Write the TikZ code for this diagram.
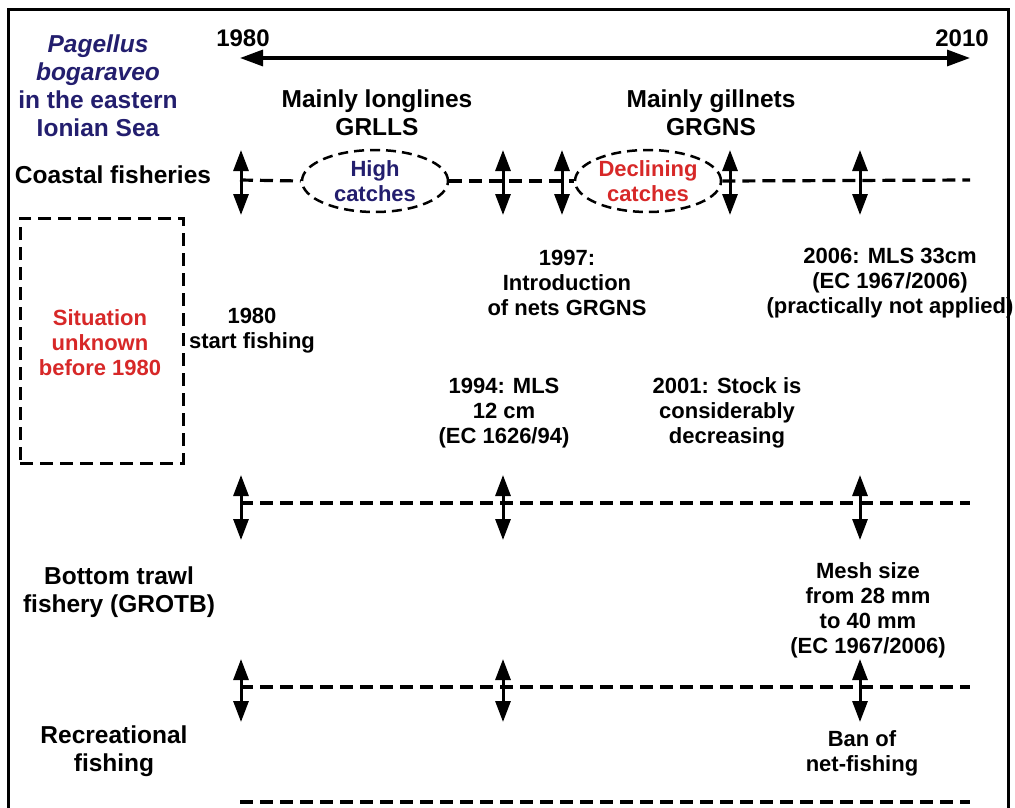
\documentclass[tikz,border=0pt]{standalone}
\usepackage{fontspec}
\setmainfont{Liberation Sans}
\usetikzlibrary{arrows.meta,shapes.geometric}
\definecolor{navy}{RGB}{35,30,110}
\definecolor{redt}{RGB}{215,40,40}
\begin{document}
\begin{tikzpicture}[x=1pt,y=-1pt,
  lab/.style={font=\fontsize{24.5}{28}\selectfont\bfseries, align=center, inner sep=0pt},
  ev/.style={font=\fontsize{22}{25}\selectfont\bfseries, align=center, inner sep=0pt},
  yr/.style={font=\fontsize{24}{28}\selectfont\bfseries, inner sep=0pt},
  dline/.style={line width=3.2pt, dash pattern=on 13pt off 7pt},
  varr/.style={line width=3pt, {Triangle[length=21pt,width=15pt]}-{Triangle[length=21pt,width=15pt]}},
  oval/.style={ellipse, draw, line width=2.5pt, dash pattern=on 10pt off 6pt, minimum width=146pt, minimum height=62pt, inner sep=0pt}
]
\useasboundingbox (0,0) rectangle (1015,807);
% frame
\draw[line width=3pt] (8,830) -- (8,9) -- (1008,9) -- (1008,830);

% title
\node[lab, text=navy] (title) at (98,86) {\itshape Pagellus\\ \itshape bogaraveo\\ in the eastern\\ Ionian Sea};

% time axis
\coordinate (t1) at (240,58);
\coordinate (t2) at (970,58);
\draw[line width=3.2pt, {Triangle[length=23pt,width=16pt]}-{Triangle[length=23pt,width=16pt]}] (t1) -- (t2);
\node[yr] (y1980) at (243,38) {1980};
\node[yr] (y2010) at (962,38) {2010};

% gear labels
\node[lab] (longl) at (377,113) {Mainly longlines\\GRLLS};
\node[lab] (gilln) at (711,113) {Mainly gillnets\\GRGNS};

% coastal fisheries row
\node[lab] (coast) at (113,175) {Coastal fisheries};
\node[oval] (hc) at (375,181) {};
\node[ev, text=navy] at (hc) {High\\catches};
\node[oval] (dc) at (648,181) {};
\node[ev, text=redt] at (dc) {Declining\\catches};
\coordinate (c0) at (240,180);
\coordinate (c1) at (970,180);
\draw[dline] (c0) -- (hc.west);
\draw[dline] (hc.east) -- (dc.west);
\draw[dline] (dc.east) -- (c1);
\foreach \i/\x in {1/241,2/503,3/562,4/730,5/860}{
  \coordinate (ca\i) at (\x,150);
  \coordinate (cb\i) at (\x,215);
  \draw[varr] (ca\i) -- (cb\i);
}

% unknown box
\node[draw, line width=3pt, dash pattern=on 13pt off 7pt, minimum width=163pt, minimum height=245pt, inner sep=0pt] (unk) at (101.5,340.5) {};
\node[ev, text=redt] (unkt) at (100,343) {Situation\\unknown\\before 1980};

% events
\node[ev] (start) at (252,331) {1980\\start fishing};
\node[ev] (e1997) at (567,283) {1997:\\Introduction\\of nets GRGNS};
\node[ev] (e2006) at (890,283) {2006: MLS 33cm\\(EC 1967/2006)\\(practically not applied)};
\node[ev] (e1994) at (504,413) {1994: MLS\\12 cm\\(EC 1626/94)};
\node[ev] (e2001) at (727,413) {2001: Stock is\\considerably\\decreasing};

% bottom trawl row
\coordinate (b0) at (240,503);
\coordinate (b1) at (970,503);
\draw[dline] (b0) -- (b1);
\foreach \i/\x in {1/241,2/503,3/860}{
  \coordinate (ba\i) at (\x,475);
  \coordinate (bb\i) at (\x,540);
  \draw[varr] (ba\i) -- (bb\i);
}
\node[lab] (trawl) at (119,592) {Bottom trawl\\fishery (GROTB)};
\node[ev] (mesh) at (868,610) {Mesh size\\from 28 mm\\to 40 mm\\(EC 1967/2006)};

% recreational row
\coordinate (r0) at (240,687);
\coordinate (r1) at (970,687);
\draw[dline] (r0) -- (r1);
\foreach \i/\x in {1/241,2/503,3/860}{
  \coordinate (ra\i) at (\x,659);
  \coordinate (rb\i) at (\x,722);
  \draw[varr] (ra\i) -- (rb\i);
}
\node[lab] (recr) at (114,751) {Recreational\\fishing};
\node[ev] (ban) at (862,753) {Ban of\\net-fishing};

% bottom line
\coordinate (z0) at (240,802);
\coordinate (z1) at (970,802);
\draw[dline] (z0) -- (z1);
\end{tikzpicture}
\end{document}
